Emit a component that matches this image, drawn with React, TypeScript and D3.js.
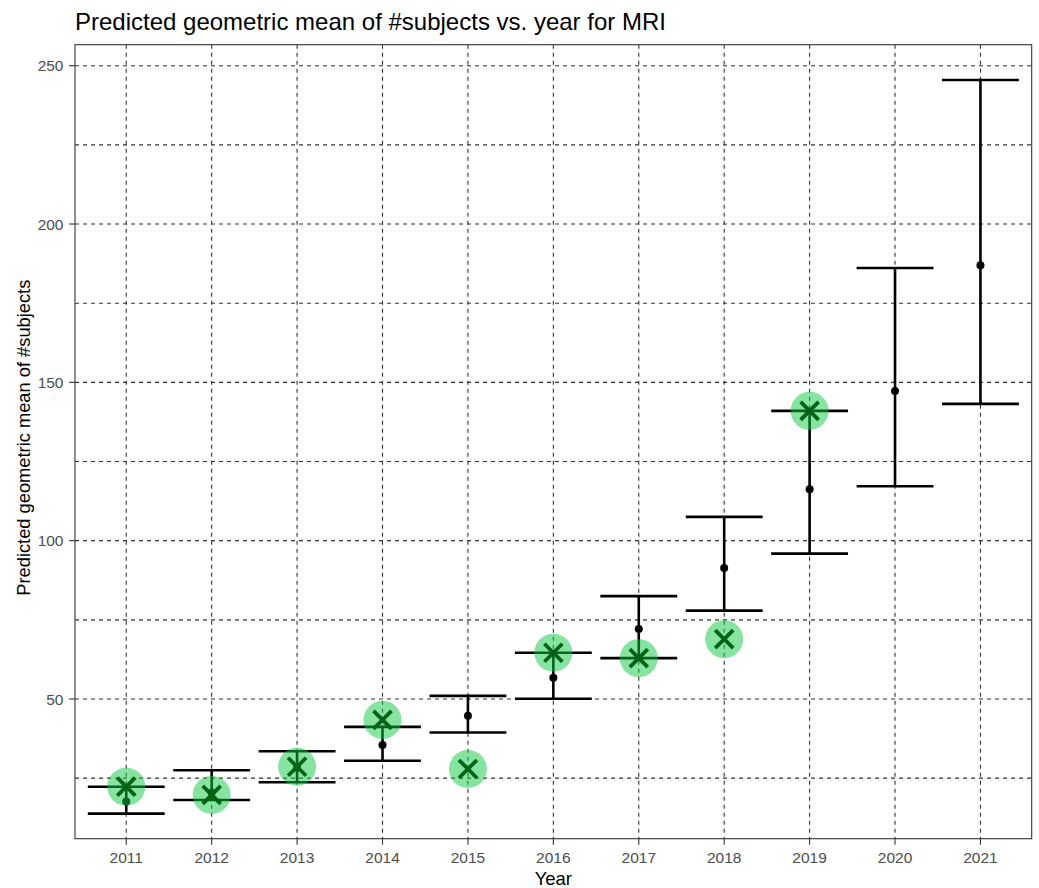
import React, { useEffect } from "react";
import * as d3 from "d3";

// ---------------------- data
const years = ["2011", "2012", "2013", "2014", "2015", "2016", "2017", "2018", "2019", "2020", "2021"];
const predicted = [17.6, 20.5, 28.2, 35.5, 44.7, 56.7, 72.1, 91.4, 116.2, 147.3, 187];
const lower = [13.8, 18.1, 23.7, 30.5, 39.4, 50.1, 62.9, 77.9, 95.9, 117.2, 143.2];
const upper = [22.3, 27.5, 33.5, 41.2, 51, 64.6, 82.5, 107.5, 141, 186.1, 245.5];
// observed values (green markers), none for 2020 / 2021
const observedYears = ["2011", "2012", "2013", "2014", "2015", "2016", "2017", "2018", "2019"];
const observed = [22.3, 19.7, 28.6, 43.4, 27.9, 64.6, 62.9, 68.9, 141];
const yMajor = [50, 100, 150, 200, 250];
const yMinor = [25, 75, 125, 175, 225];

const W = 1039;
const H = 888;
const margin = { top: 44.7, right: 7.3, bottom: 49.3, left: 75 };
const FONT = "'Liberation Sans', Arial, sans-serif";

export default function App() {
  useEffect(() => {
    document.body.style.margin = "0";
  }, []);

  const x = d3
    .scalePoint<string>()
    .domain(years)
    .range([margin.left, W - margin.right])
    .padding(0.6);
  const y = d3
    .scaleLinear()
    .domain([5.88, 256.63])
    .range([H - margin.bottom, margin.top]);

  const step = x.step();
  const barHalf = (step * 0.9) / 2;
  const x0 = margin.left;
  const x1 = W - margin.right;
  const y0 = H - margin.bottom;
  const y1 = margin.top;
  const grid = "#333";
  const dash = "4 4";

  return (
    <svg width={W} height={H} style={{ display: "block", background: "#fff" }} fontFamily={FONT}>
      {/* grid */}
      <g className="grid" stroke={grid} strokeWidth={1.1} strokeDasharray={dash}>
        {[...yMinor, ...yMajor].map(v => (
          <line key={"h" + v} x1={x0} x2={x1} y1={y(v)} y2={y(v)} />
        ))}
        {years.map(d => (
          <line key={"v" + d} x1={x(d)} x2={x(d)} y1={y1} y2={y0} />
        ))}
      </g>

      {/* error bars */}
      <g className="errorbars" stroke="#000" strokeWidth={2.6}>
        {years.map((d, i) => (
          <g key={d}>
            <line x1={x(d)} x2={x(d)} y1={y(lower[i])} y2={y(upper[i])} />
            <line x1={x(d)! - barHalf} x2={x(d)! + barHalf} y1={y(lower[i])} y2={y(lower[i])} />
            <line x1={x(d)! - barHalf} x2={x(d)! + barHalf} y1={y(upper[i])} y2={y(upper[i])} />
          </g>
        ))}
      </g>
      <g className="points">
        {years.map((d, i) => (
          <circle key={d} cx={x(d)} cy={y(predicted[i])} r={4} fill="#000" />
        ))}
      </g>

      {/* observed */}
      <g className="observed">
        {observedYears.map((d, i) => (
          <circle key={d} cx={x(d)} cy={y(observed[i])} r={19} fill="rgb(13,200,65)" fillOpacity={0.5} />
        ))}
        {observedYears.map((d, i) => {
          const cx = x(d)!;
          const cy = y(observed[i]);
          const s = 9;
          return (
            <path
              key={"x" + d}
              d={`M${cx - s},${cy - s}L${cx + s},${cy + s}M${cx - s},${cy + s}L${cx + s},${cy - s}`}
              stroke="#006416"
              strokeWidth={3.8}
              fill="none"
            />
          );
        })}
      </g>

      {/* panel border */}
      <rect x={x0} y={y1} width={x1 - x0} height={y0 - y1} fill="none" stroke="#333" strokeWidth={1.1} />

      {/* y axis */}
      <g className="y-axis" fontSize={15.5} fill="#4d4d4d">
        {yMajor.map(v => (
          <g key={v}>
            <line x1={x0 - 6} x2={x0} y1={y(v)} y2={y(v)} stroke="#333" strokeWidth={1.1} />
            <text x={x0 - 11.5} y={y(v)} dy="0.36em" textAnchor="end">
              {v}
            </text>
          </g>
        ))}
      </g>
      {/* x axis */}
      <g className="x-axis" fontSize={15.5} fill="#4d4d4d">
        {years.map(d => (
          <g key={d}>
            <line x1={x(d)} x2={x(d)} y1={y0} y2={y0 + 6} stroke="#333" strokeWidth={1.1} />
            <text x={x(d)} y={y0 + 24} textAnchor="middle">
              {d}
            </text>
          </g>
        ))}
      </g>

      {/* titles */}
      <text x={(x0 + x1) / 2} y={885} textAnchor="middle" fontSize={18.5} fill="#000">
        Year
      </text>
      <text
        transform={`translate(30, ${(y0 + y1) / 2 - 4}) rotate(-90)`}
        textAnchor="middle"
        fontSize={18.3}
        fill="#000"
      >
        Predicted geometric mean of #subjects
      </text>
      <text x={x0} y={29.5} fontSize={24} fill="#000">
        Predicted geometric mean of #subjects vs. year for MRI
      </text>
    </svg>
  );
}
